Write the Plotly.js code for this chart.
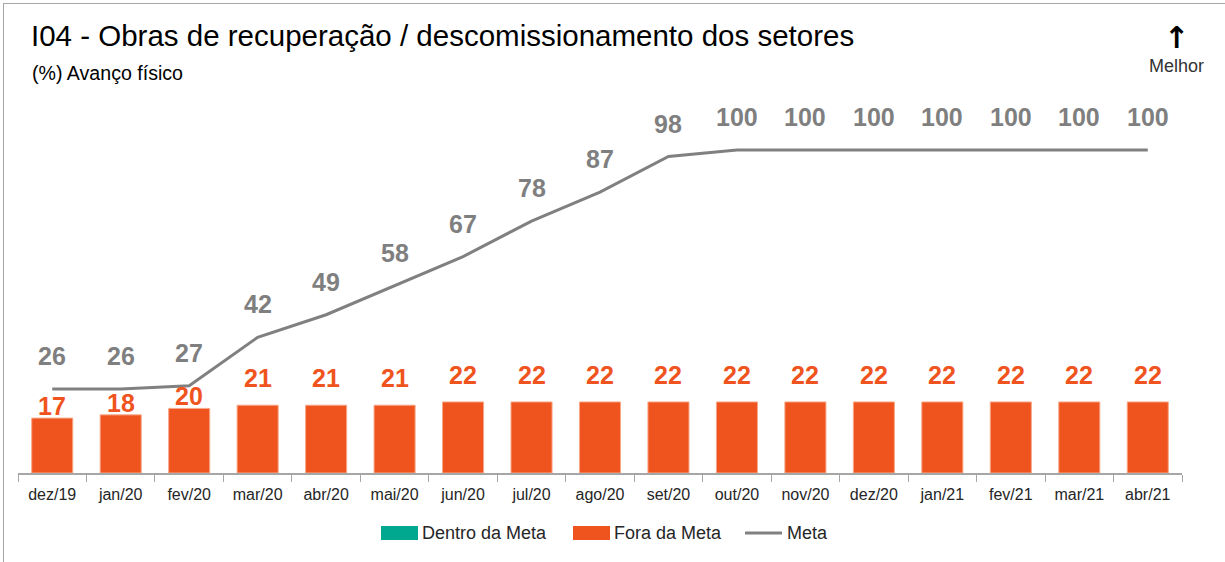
<!DOCTYPE html>
<html>
<head>
<meta charset="utf-8">
<script src="https://cdn.plot.ly/plotly-3.0.1.min.js"></script>
<style>
  html, body { margin: 0; padding: 0; background: #fff; }
  #wrap { position: relative; width: 1225px; height: 562px; }
  #chart { width: 1225px; height: 562px; }
  #frame { position: absolute; left: 3px; top: 3px; right: 0; bottom: 0;
           border-left: 1.5px solid #A6A6A6; border-top: 1.5px solid #A6A6A6; pointer-events: none; }
</style>
</head>
<body>
<div id="wrap">
  <div id="chart"></div>
  <div id="frame"></div>
</div>
<script>
const categories = ["dez/19","jan/20","fev/20","mar/20","abr/20","mai/20","jun/20","jul/20","ago/20","set/20","out/20","nov/20","dez/20","jan/21","fev/21","mar/21","abr/21"];
const foraDaMeta = [17,18,20,21,21,21,22,22,22,22,22,22,22,22,22,22,22];
const dentroDaMeta = categories.map(() => null);
const meta = [26,26,27,42,49,58,67,78,87,98,100,100,100,100,100,100,100];
const legendLabels = ["Dentro da Meta", "Fora da Meta", "Meta"];

const ORANGE = "#F0541E";
const TEAL = "#00A88F";
const GREY = "#808080";
const FONT = "Liberation Sans, Arial, sans-serif";

// plot area geometry (pixels) used to place paper-referenced decorations
const W = 1225, H = 562, ML = 18, MR = 43, MT = 110, MB = 89;
const PW = W - ML - MR, PH = H - MT - MB;
const px = x => (x - ML) / PW;
const py = y => (H - MB - y) / PH;

const traces = [
  { type: "bar", name: legendLabels[0], x: categories, y: dentroDaMeta,
    marker: { color: TEAL }, showlegend: false, hoverinfo: "skip" },
  { type: "bar", name: legendLabels[1], x: categories, y: foraDaMeta,
    marker: { color: ORANGE, line: { color: "#F7A98A", width: 1 } }, width: 0.6, showlegend: false },
  { type: "scatter", mode: "lines", name: legendLabels[2], x: categories, y: meta,
    line: { color: GREY, width: 3 }, showlegend: false }
];

const annotations = [];
categories.forEach((c, i) => {
  const close = (meta[i] - foraDaMeta[i]) < 10;
  annotations.push({ x: c, y: foraDaMeta[i], xref: "x", yref: "y", text: String(foraDaMeta[i]),
    showarrow: false, yshift: close ? 12 : 27,
    font: { family: FONT, size: 25, color: ORANGE, weight: "bold" } });
  annotations.push({ x: c, y: meta[i], xref: "x", yref: "y", text: String(meta[i]),
    showarrow: false, yshift: 33,
    font: { family: FONT, size: 25, color: "#7F7F7F", weight: "bold" } });
});

// Titles and "Melhor" marker
annotations.push({ xref: "paper", yref: "paper", x: px(29), y: py(36), xanchor: "left", yanchor: "middle",
  text: "I04 - Obras de recuperação / descomissionamento dos setores", showarrow: false,
  font: { family: FONT, size: 29.5, color: "#000" } });
annotations.push({ xref: "paper", yref: "paper", x: px(30), y: py(73), xanchor: "left", yanchor: "middle",
  text: "(%) Avanço físico", showarrow: false,
  font: { family: FONT, size: 19.6, color: "#000" } });
annotations.push({ xref: "paper", yref: "paper", x: px(1176), y: py(37), xanchor: "center", yanchor: "middle",
  text: "↑", showarrow: false, font: { family: "DejaVu Sans, sans-serif", size: 30, color: "#000", weight: "bold" } });
annotations.push({ xref: "paper", yref: "paper", x: px(1176), y: py(66), xanchor: "center", yanchor: "middle",
  text: "Melhor", showarrow: false, font: { family: FONT, size: 18, color: "#333" } });

// custom legend
const shapes = [
  { type: "rect", xref: "paper", yref: "paper", x0: px(381), x1: px(418), y0: py(540), y1: py(526),
    fillcolor: TEAL, line: { width: 0 } },
  { type: "rect", xref: "paper", yref: "paper", x0: px(573), x1: px(610), y0: py(540), y1: py(526),
    fillcolor: ORANGE, line: { width: 0 } },
  { type: "line", xref: "paper", yref: "paper", x0: px(745), x1: px(782), y0: py(533), y1: py(533),
    line: { color: GREY, width: 3 } }
];
const legX = [420, 612, 785];
legendLabels.forEach((t, i) => {
  annotations.push({ xref: "paper", yref: "paper", x: px(legX[i]), y: py(533), xanchor: "left", yanchor: "middle",
    text: t, showarrow: false, font: { family: FONT, size: 18, color: "#262626" } });
});

const layout = {
  width: W, height: H,
  margin: { l: ML, r: MR, t: MT, b: MB },
  paper_bgcolor: "#fff", plot_bgcolor: "#fff",
  barmode: "overlay",
  showlegend: false,
  xaxis: { type: "category", showline: true, linecolor: "#A6A6A6", linewidth: 1.5,
    ticks: "outside", tickson: "boundaries", ticklen: 7, tickcolor: "#A6A6A6",
    ticklabelstandoff: 6,
    tickfont: { family: FONT, size: 16, color: "#262626" }, showgrid: false, zeroline: false,
    fixedrange: true },
  yaxis: { range: [0, 112.4], visible: false, showgrid: false, zeroline: false, fixedrange: true },
  annotations: annotations,
  shapes: shapes,
  font: { family: FONT }
};

Plotly.newPlot("chart", traces, layout, { displayModeBar: false, staticPlot: true });
</script>
</body>
</html>
